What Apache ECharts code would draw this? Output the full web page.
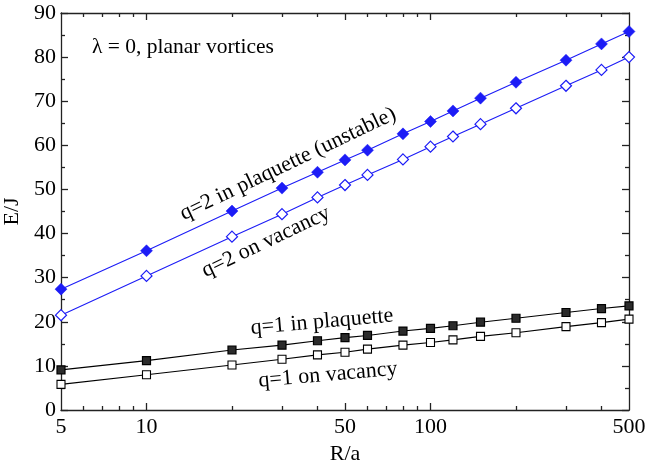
<!DOCTYPE html>
<html>
<head>
<meta charset="utf-8">
<script src="https://cdn.jsdelivr.net/npm/echarts@6/dist/echarts.min.js"></script>
<style>html,body{margin:0;padding:0;background:#fff}#c{width:647px;height:466px}</style>
</head>
<body>
<div id="c"></div>
<script>
// ---- data ----
const R = [5, 10, 20, 30, 40, 50, 60, 80, 100, 120, 150, 200, 300, 400, 500];
const q2Plaquette = [27.4, 36.1, 45.1, 50.3, 53.9, 56.7, 58.9, 62.6, 65.4, 67.8, 70.7, 74.3, 79.3, 83.0, 85.8];
const q2Vacancy   = [21.5, 30.4, 39.3, 44.4, 48.2, 51.0, 53.3, 56.8, 59.7, 62.0, 64.8, 68.4, 73.5, 77.1, 80.0];
const q1Plaquette = [9.1, 11.2, 13.6, 14.7, 15.7, 16.4, 16.9, 17.9, 18.5, 19.1, 19.9, 20.8, 22.1, 23.0, 23.6];
const q1Vacancy   = [5.8, 8.0, 10.2, 11.5, 12.5, 13.1, 13.8, 14.7, 15.3, 15.9, 16.7, 17.5, 18.9, 19.8, 20.6];
const xTickLabels = [5, 10, 50, 100, 500];
const xMajorTicks = [10, 50, 100];
const xMinorTicks = [6, 7, 8, 9, 20, 30, 40, 60, 70, 80, 90, 200, 300, 400];
const yTickLabels = [0, 10, 20, 30, 40, 50, 60, 70, 80, 90];

const FONT = "'Liberation Serif', 'Times New Roman', serif";
const BLUE = '#1c1cf6';
const AX = '#222';
const xMin = 5, xMax = 500;
const lg = v => Math.log10(v);

function overlayX(position, ticks, len, showLine, labels) {
  return {
    type: 'value', position: position, gridIndex: 0,
    min: lg(xMin), max: lg(xMax),
    axisLine: { show: showLine, lineStyle: { color: AX, width: 1.3 } },
    axisTick: { show: true, inside: true, length: len, customValues: ticks.map(lg), lineStyle: { color: AX, width: 1.3 } },
    axisLabel: labels ? {
      show: true, customValues: labels.map(lg),
      formatter: v => String(Math.round(Math.pow(10, v))),
      fontFamily: FONT, fontSize: 22, color: '#000', margin: 6
    } : { show: false },
    splitLine: { show: false }
  };
}

function mkSeries(name, vals, color, symbol, size, fill, bw) {
  return {
    name: name, type: 'line', xAxisIndex: 0, yAxisIndex: 0,
    data: R.map((r, i) => [r, vals[i]]),
    symbol: symbol, symbolSize: size, showAllSymbol: true,
    lineStyle: { color: color, width: 1.1 },
    itemStyle: { color: fill, borderColor: color, borderWidth: bw },
    z: 3
  };
}

const chart = echarts.init(document.getElementById('c'), null, { renderer: 'canvas' });
chart.setOption({
  animation: false,
  backgroundColor: '#fff',
  grid: { left: 61, right: 18, top: 13, bottom: 56, containLabel: false, outerBoundsMode: 'none' },
  xAxis: [
    {
      type: 'log', logBase: 10, min: xMin, max: xMax, position: 'bottom',
      axisLine: { show: true, lineStyle: { color: AX, width: 1.3 } },
      axisTick: { show: false }, axisLabel: { show: false }, splitLine: { show: false }, minorTick: { show: false }
    },
    Object.assign(overlayX('bottom', xMajorTicks, 7, false, xTickLabels), {
      name: 'R/a', nameLocation: 'middle', nameGap: 24,
      nameTextStyle: { fontFamily: FONT, fontSize: 22, color: '#000' }
    }),
    overlayX('bottom', xMinorTicks, 4, false, null),
    overlayX('top', xMajorTicks, 7, true, null),
    overlayX('top', xMinorTicks, 4, false, null)
  ],
  yAxis: [
    {
      type: 'value', position: 'left', min: 0, max: 90, interval: 10,
      axisLine: { show: true, lineStyle: { color: AX, width: 1.3 } },
      axisTick: { show: true, inside: true, length: 7, lineStyle: { color: AX, width: 1.3 } },
      minorTick: { show: true, splitNumber: 2, length: 4, lineStyle: { color: AX, width: 1.3 } },
      axisLabel: { fontFamily: FONT, fontSize: 22, color: '#000', margin: 5,
        customValues: yTickLabels },
      splitLine: { show: false },
      name: 'E/J', nameLocation: 'middle', nameGap: 31, nameRotate: 90,
      nameTextStyle: { fontFamily: FONT, fontSize: 22, color: '#000' }
    },
    {
      type: 'value', position: 'right', min: 0, max: 90, interval: 10,
      axisLine: { show: true, lineStyle: { color: AX, width: 1.3 } },
      axisTick: { show: true, inside: true, length: 7, lineStyle: { color: AX, width: 1.3 } },
      minorTick: { show: true, splitNumber: 2, length: 4, lineStyle: { color: AX, width: 1.3 } },
      axisLabel: { show: false }, splitLine: { show: false }
    }
  ],
  series: [
    mkSeries('q=2 in plaquette (unstable)', q2Plaquette, BLUE, 'diamond', [12, 12], BLUE, 0.5),
    mkSeries('q=2 on vacancy', q2Vacancy, BLUE, 'diamond', [11, 11], '#fff', 1.2),
    mkSeries('q=1 in plaquette', q1Plaquette, '#000', 'rect', [8, 8], '#2b2b2b', 1.2),
    mkSeries('q=1 on vacancy', q1Vacancy, '#000', 'rect', [8, 8], '#fff', 1.1)
  ],
  graphic: [
    { type: 'text', left: 92, top: 36, style: { text: 'λ = 0, planar vortices', font: '21.5px ' + FONT, fill: '#000' } },
    { type: 'text', x: 288, y: 164, rotation: 25.5 * Math.PI / 180,
      style: { text: 'q=2 in plaquette (unstable)', font: '22px ' + FONT, fill: '#000', align: 'center', verticalAlign: 'middle' } },
    { type: 'text', x: 266, y: 242, rotation: 25.5 * Math.PI / 180,
      style: { text: 'q=2 on vacancy', font: '22px ' + FONT, fill: '#000', align: 'center', verticalAlign: 'middle' } },
    { type: 'text', x: 322, y: 322, rotation: 5 * Math.PI / 180,
      style: { text: 'q=1 in plaquette', font: '22px ' + FONT, fill: '#000', align: 'center', verticalAlign: 'middle' } },
    { type: 'text', x: 328, y: 375, rotation: 5 * Math.PI / 180,
      style: { text: 'q=1 on vacancy', font: '22px ' + FONT, fill: '#000', align: 'center', verticalAlign: 'middle' } }
  ]
});
</script>
</body>
</html>
